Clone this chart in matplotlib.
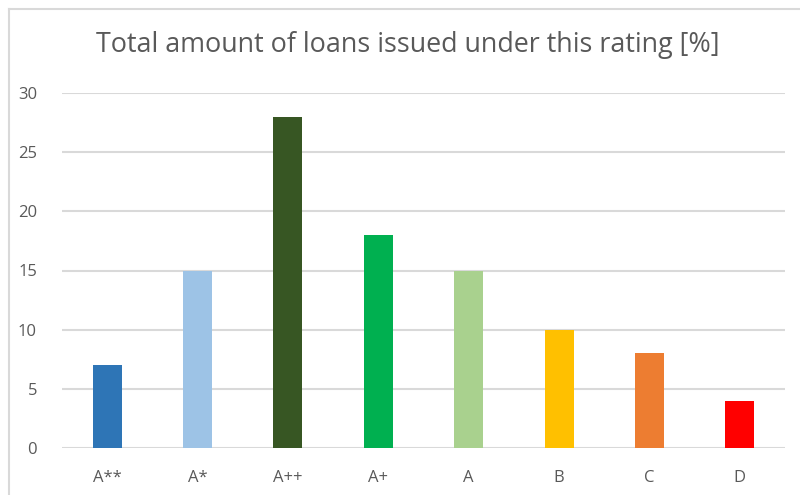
import matplotlib.pyplot as plt
from matplotlib.lines import Line2D

ratings = ["A**", "A*", "A++", "A+", "A", "B", "C", "D"]
shares = [7, 15, 28, 18, 15, 10, 8, 4]
bar_colors = ["#2E75B6", "#9DC3E6", "#375623", "#00B050", "#A9D18E", "#FFC000", "#ED7D31", "#FF0000"]
y_ticks = [0, 5, 10, 15, 20, 25, 30]

plt.rcParams["font.family"] = ["Open Sans", "DejaVu Sans"]
text_color = "#595959"
grid_color = "#D9D9D9"

fig = plt.figure(figsize=(8, 4.95), dpi=100)
ax = fig.add_axes([62 / 800, 1 - 448 / 495, (785 - 62) / 800, (448 - 93) / 495])

x = range(len(ratings))
ax.bar(x, shares, width=0.32, color=bar_colors, zorder=3)

ax.set_xlim(-0.5, len(ratings) - 0.5)
ax.set_ylim(0, 30)
ax.set_yticks(y_ticks)
ax.set_xticks(list(x))
ax.set_xticklabels(ratings)
ax.yaxis.grid(True, color=grid_color, linewidth=1.5, zorder=0)
for s in ax.spines.values():
    s.set_visible(False)
ax.tick_params(axis="both", length=0, labelsize=12, colors=text_color)
ax.tick_params(axis="y", pad=18)
ax.tick_params(axis="x", pad=16)

fig.text(408 / 800, 1 - 45 / 495, "Total amount of loans issued under this rating [%]",
         ha="center", va="center", fontsize=19.4, color=text_color)

# chart frame (left and top edges visible in the crop)
fig.add_artist(Line2D([9 / 800, 9 / 800], [0, 1 - 9 / 495], transform=fig.transFigure,
                      color=grid_color, linewidth=1.5))
fig.add_artist(Line2D([9 / 800, 1], [1 - 9 / 495, 1 - 9 / 495], transform=fig.transFigure,
                      color=grid_color, linewidth=1.5))

fig.savefig("out.png", dpi=100)
